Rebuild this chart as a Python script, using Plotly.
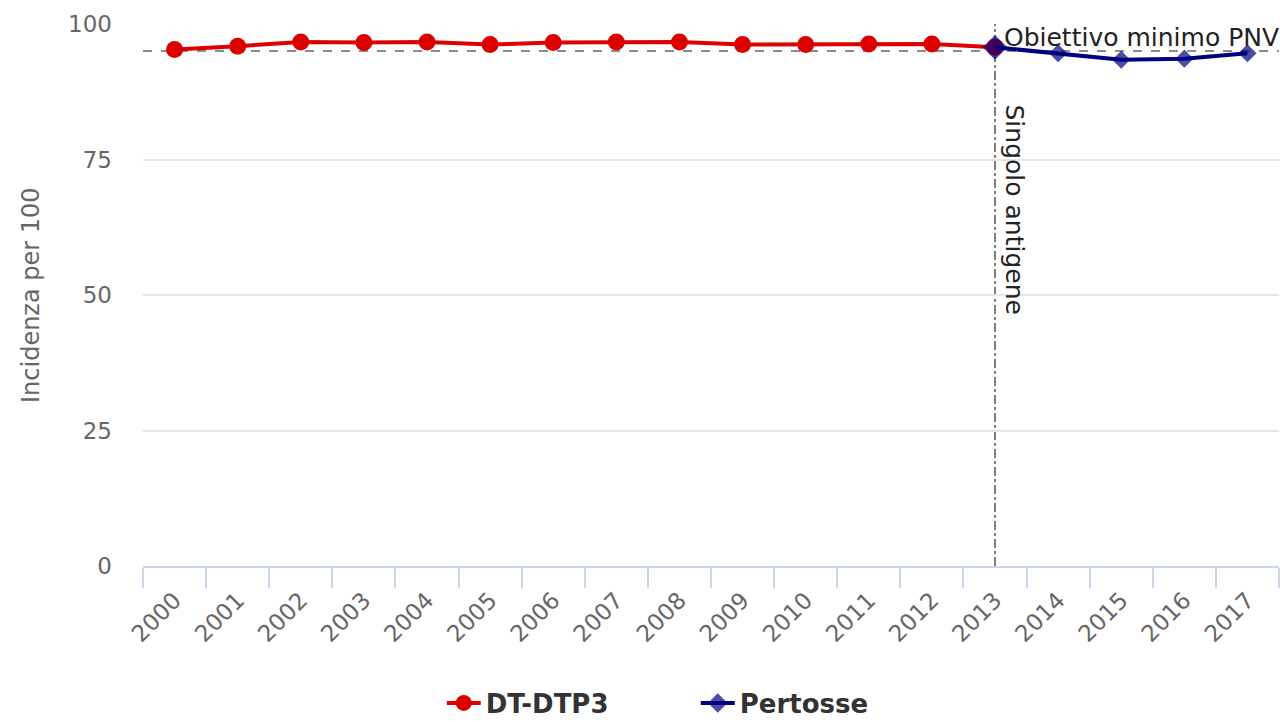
import plotly.graph_objects as go

# Copertura vaccinale (%) per anno
years = [str(y) for y in range(2000, 2018)]
dtp3_years = years[:14]                      # 2000-2013
dtp3_values = [95.3, 95.9, 96.7, 96.6, 96.7, 96.2, 96.6, 96.7, 96.7,
               96.2, 96.2, 96.3, 96.3, 95.7]
pertosse_years = years[13:]                  # 2013-2017
pertosse_values = [95.7, 94.6, 93.4, 93.6, 94.6]

target_value = 95          # obiettivo minimo PNV
split_year = "2013"        # passaggio al singolo antigene
y_ticks = [0, 25, 50, 75, 100]

FONT = "DejaVu Sans"

fig = go.Figure()

fig.add_trace(go.Scatter(
    x=dtp3_years, y=dtp3_values, name="DT-DTP3",
    mode="lines+markers",
    line=dict(color="#dd0000", width=4),
    marker=dict(symbol="circle", size=17, color="#dd0000"),
    cliponaxis=False,
))

fig.add_trace(go.Scatter(
    x=pertosse_years, y=pertosse_values, name="Pertosse",
    mode="lines+markers",
    line=dict(color="#000080", width=4),
    marker=dict(symbol="diamond", size=[19, 14, 14, 14, 14], color="#000080",
                line=dict(width=0)),
    cliponaxis=False,
))

# linea orizzontale dell'obiettivo
fig.add_shape(type="line", xref="paper", yref="y",
              x0=0, x1=1, y0=target_value, y1=target_value,
              line=dict(color="#666666", width=1.5, dash="dash"),
              layer="below")
fig.add_annotation(xref="paper", yref="y", x=1, y=target_value,
                   xanchor="right", yanchor="bottom", yshift=-3, xshift=2,
                   text="Obiettivo minimo PNV", showarrow=False,
                   font=dict(family=FONT, size=25, color="#222222"))

# linea verticale del cambio di antigene
split_idx = years.index(split_year)
fig.add_shape(type="line", xref="x", yref="paper",
              x0=split_idx, x1=split_idx, y0=0, y1=1,
              line=dict(color="#555555", width=1.5, dash="dashdot"),
              layer="below")
fig.add_annotation(xref="x", yref="paper", x=split_idx, y=1,
                   xanchor="left", yanchor="top", xshift=3, yshift=-78,
                   text="Singolo antigene", showarrow=False, textangle=90,
                   font=dict(family=FONT, size=25, color="#222222"))

# titolo dell'asse y
fig.add_annotation(xref="paper", yref="paper", x=-0.0986, y=0.5,
                   xanchor="center", yanchor="middle",
                   text="Incidenza per 100", showarrow=False, textangle=-90,
                   font=dict(family=FONT, size=24, color="#666666"))

fig.update_layout(
    width=1280, height=722,
    margin=dict(l=143, r=1, t=24, b=156, autoexpand=False),
    paper_bgcolor="white", plot_bgcolor="white",
    font=dict(family=FONT, color="#666666"),
    showlegend=True,
    legend=dict(orientation="h", x=0.263, xanchor="left",
                y=-0.2528, yanchor="middle",
                font=dict(family=FONT, size=26, color="#333333",
                          weight="bold"),
                itemwidth=34, entrywidth=205),
    xaxis=dict(type="category", categoryorder="array", categoryarray=years,
               range=[-0.5, len(years) - 0.5], automargin=False,
               tickson="boundaries", ticks="outside", ticklen=20,
               tickcolor="#ccd6eb", tickwidth=1.5,
               showline=True, linecolor="#ccd6eb", linewidth=1.5,
               showgrid=False, tickangle=-45, ticklabelstandoff=10,
               tickfont=dict(family=FONT, size=23, color="#666666")),
    yaxis=dict(range=[0, 100], tickvals=y_ticks, ticks="", automargin=False,
               showgrid=True, gridcolor="#e6e6e6", gridwidth=1.5,
               zeroline=False, showline=False,
               ticklabelstandoff=30,
               tickfont=dict(family=FONT, size=23, color="#666666")),
)

fig.write_html("out.html")
